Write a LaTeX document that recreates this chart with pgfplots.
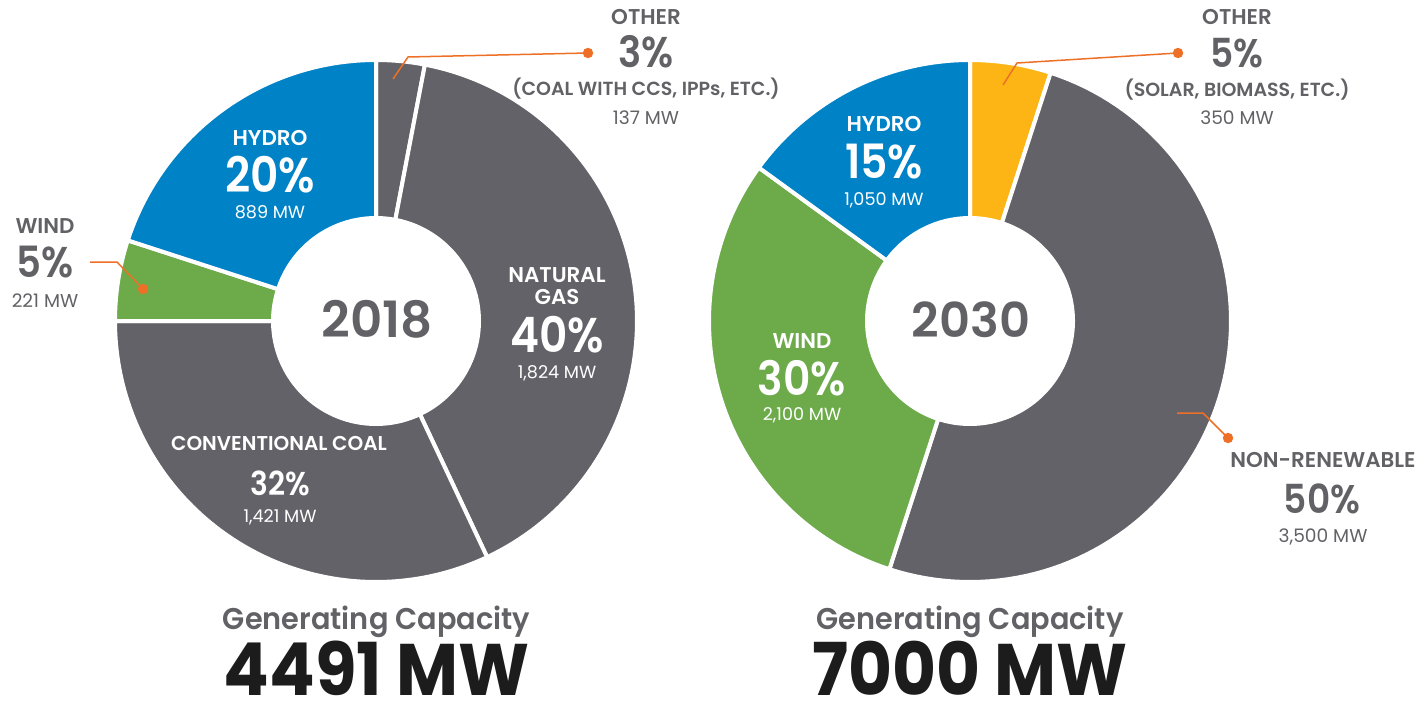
\documentclass[border=0pt]{standalone}
\usepackage{pgfplots}
\pgfplotsset{compat=1.18}
\usepackage{pgfplotstable}
\usepackage{fontspec}
\setmainfont{Poppins}[BoldFont=Poppins SemiBold]
\newfontfamily\heavyfont{Poppins}

\definecolor{cgray}{RGB}{98,98,104}
\definecolor{cblue}{RGB}{0,130,198}
\definecolor{cgreen}{RGB}{108,170,74}
\definecolor{cyellow}{RGB}{253,181,21}
\definecolor{corange}{RGB}{238,112,38}
\definecolor{ctext}{RGB}{98,98,102}
\definecolor{cdark}{RGB}{28,28,28}

% 2018 capacity, clockwise from 12 o'clock (share in %, capacity in MW)
\pgfplotstableread{
label      pct  mw    col
Other      3    137   cgray
NaturalGas 40   1824  cgray
Coal       32   1421  cgray
Wind       5    221   cgreen
Hydro      20   889   cblue
}\dataA
% 2030 capacity, clockwise from 12 o'clock
\pgfplotstableread{
label        pct  mw    col
Other        5    350   cyellow
NonRenewable 50   3500  cgray
Wind         30   2100  cgreen
Hydro        15   1050  cblue
}\dataB

\newcommand\drawdonut[4]{% #1 table, #2 cx, #3 cy, #4 last row index
  \def\tot{0}%
  \pgfplotsforeachungrouped \i in {0,...,#4}{%
    \pgfplotstablegetelem{\i}{pct}\of#1%
    \pgfmathsetmacro\tot{\tot+\pgfplotsretval}}%
  \def\cum{0}%
  \pgfplotsforeachungrouped \i in {0,...,#4}{%
    \pgfplotstablegetelem{\i}{pct}\of#1%
    \let\sliceval\pgfplotsretval
    \pgfplotstablegetelem{\i}{col}\of#1%
    \let\slicecol\pgfplotsretval
    \pgfmathsetmacro\aS{90-360*(\cum/\tot)}%
    \pgfmathsetmacro\aE{90-360*((\cum+\sliceval)/\tot)}%
    \edef\doplot{\noexpand\addplot[fill=\slicecol, draw=white, line width=2pt, line join=round, domain=\aE:\aS, samples=90] ({#2+261*cos(x)},{#3+261*sin(x)}) -- (axis cs:#2,#3) -- cycle;}%
    \doplot
    \pgfmathsetmacro\cum{\cum+\sliceval}%
  }%
  \addplot[fill=white, draw=none, domain=0:360, samples=140] ({#2+105*cos(x)},{#3+105*sin(x)}) -- cycle;
}

\newcommand\fs[1]{\fontsize{#1}{#1}\selectfont}
\newcommand\pc[1]{\scalebox{0.9}[1]{#1}}

\begin{document}
\begin{tikzpicture}
\useasboundingbox (0,0) rectangle (711pt,351.5pt);
\begin{axis}[
  at={(0,0)}, anchor=south west,
  width=711pt, height=351.5pt, scale only axis,
  xmin=0, xmax=1422, ymin=0, ymax=703,
  hide axis, clip=false,
]
\drawdonut{\dataA}{376}{382}{4}
\drawdonut{\dataB}{970}{382}{3}

% leader lines
\addplot[corange, line width=0.75pt, mark=*, mark size=2.2pt, mark indices={3}, mark options={fill=corange, draw=corange}]
  coordinates {(393,624) (408,646) (588,650)};
\addplot[corange, line width=0.75pt, mark=*, mark size=2.2pt, mark indices={3}, mark options={fill=corange, draw=corange}]
  coordinates {(90,441) (117,441) (143,414)};
\addplot[corange, line width=0.75pt, mark=*, mark size=2.2pt, mark indices={3}, mark options={fill=corange, draw=corange}]
  coordinates {(1003,618) (1017,640) (1178,650)};
\addplot[corange, line width=0.75pt, mark=*, mark size=2.2pt, mark indices={3}, mark options={fill=corange, draw=corange}]
  coordinates {(1177,290) (1203,290) (1228,265)};

% ---- 2018 labels
\node[anchor=base, text=ctext, font=\bfseries\fs{10.7}] at (axis cs:646,678) {OTHER};
\node[anchor=base, text=ctext, font=\bfseries\fs{21.5}] at (axis cs:646,635) {\pc{3\%}};
\node[anchor=base, text=ctext, font=\bfseries\fs{9.5}] at (axis cs:646,607) {(COAL WITH CCS, IPPs, ETC.)};
\node[anchor=base, text=ctext, font=\fs{9.3}] at (axis cs:646,578) {137 MW};

\node[anchor=base, text=ctext, font=\bfseries\fs{10.7}] at (axis cs:45,470) {WIND};
\node[anchor=base, text=ctext, font=\bfseries\fs{21.5}] at (axis cs:45,426) {\pc{5\%}};
\node[anchor=base, text=ctext, font=\fs{9.3}] at (axis cs:45,396) {221 MW};

\node[anchor=base, text=white, font=\bfseries\fs{10.7}] at (axis cs:270,558) {HYDRO};
\node[anchor=base, text=white, font=\bfseries\fs{24.4}] at (axis cs:270,511) {\pc{20\%}};
\node[anchor=base, text=white, font=\fs{8.8}] at (axis cs:270,485) {889 MW};

\node[anchor=base, text=ctext, font=\bfseries\fs{25}] at (axis cs:377,366) {2018};

\node[anchor=base, text=white, font=\bfseries\fs{10.7}] at (axis cs:557,421) {NATURAL};
\node[anchor=base, text=white, font=\bfseries\fs{10.7}] at (axis cs:557,399) {GAS};
\node[anchor=base, text=white, font=\bfseries\fs{24.4}] at (axis cs:557,351) {\pc{40\%}};
\node[anchor=base, text=white, font=\fs{8.8}] at (axis cs:557,325) {1,824 MW};

\node[anchor=base, text=white, font=\bfseries\fs{10}] at (axis cs:279,253) {CONVENTIONAL COAL};
\node[anchor=base, text=white, font=\bfseries\fs{16.5}] at (axis cs:280,208) {\pc{32\%}};
\node[anchor=base, text=white, font=\fs{8.8}] at (axis cs:280,181) {1,421 MW};

\node[anchor=base, text=ctext, font=\bfseries\fs{15}] at (axis cs:376.5,74) {\scalebox{0.96}[1]{Generating Capacity}};
\node[anchor=base, inner sep=0pt, text=cdark, font=\heavyfont\bfseries\fs{36.5}] at (axis cs:376.5,8) {\scalebox{0.925}[1]{4491 MW}};

% ---- 2030 labels
\node[anchor=base, text=ctext, font=\bfseries\fs{10.7}] at (axis cs:1237,678) {OTHER};
\node[anchor=base, text=ctext, font=\bfseries\fs{20}] at (axis cs:1237,635) {\pc{5\%}};
\node[anchor=base, text=ctext, font=\bfseries\fs{9.5}] at (axis cs:1237,606) {(SOLAR, BIOMASS, ETC.)};
\node[anchor=base, text=ctext, font=\fs{9.3}] at (axis cs:1237,578) {350 MW};

\node[anchor=base, text=white, font=\bfseries\fs{10.7}] at (axis cs:884,571) {HYDRO};
\node[anchor=base, text=white, font=\bfseries\fs{23.6}] at (axis cs:884,524) {\pc{15\%}};
\node[anchor=base, text=white, font=\fs{8.8}] at (axis cs:884,498) {1,050 MW};

\node[anchor=base, text=ctext, font=\bfseries\fs{24}] at (axis cs:971,366) {2030};

\node[anchor=base, text=white, font=\bfseries\fs{10.7}] at (axis cs:802,355) {WIND};
\node[anchor=base, text=white, font=\bfseries\fs{23.6}] at (axis cs:802,308) {\pc{30\%}};
\node[anchor=base, text=white, font=\fs{8.8}] at (axis cs:802,283) {2,100 MW};

\node[anchor=base, text=ctext, font=\bfseries\fs{10.7}] at (axis cs:1323,236) {NON-RENEWABLE};
\node[anchor=base, text=ctext, font=\bfseries\fs{20}] at (axis cs:1322,190) {\pc{50\%}};
\node[anchor=base, text=ctext, font=\fs{9.3}] at (axis cs:1323,161) {3,500 MW};

\node[anchor=base, text=ctext, font=\bfseries\fs{15}] at (axis cs:970,74) {\scalebox{0.96}[1]{Generating Capacity}};
\node[anchor=base, inner sep=0pt, text=cdark, font=\heavyfont\bfseries\fs{36.5}] at (axis cs:970,8) {\scalebox{0.925}[1]{7000 MW}};
\end{axis}
\end{tikzpicture}
\end{document}
